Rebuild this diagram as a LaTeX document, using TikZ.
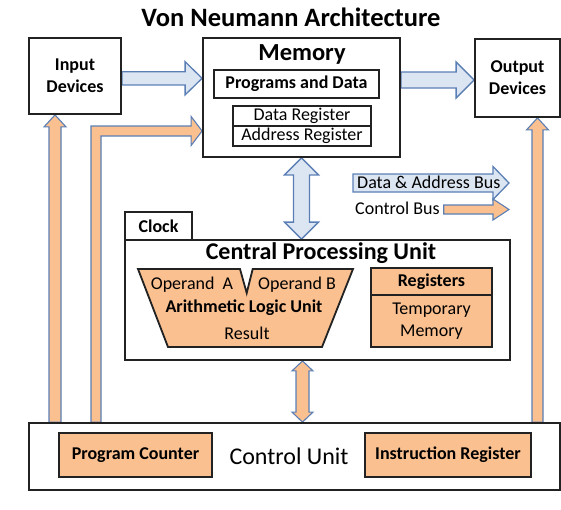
\documentclass[tikz,border=0pt]{standalone}
\usepackage{fontspec}
\setmainfont{Carlito}
\usetikzlibrary{calc}
\definecolor{bfill}{HTML}{DCE6F2}
\definecolor{bline}{HTML}{5B7FB5}
\definecolor{ofill}{HTML}{FAC090}
\definecolor{kline}{HTML}{222222}
\pgfdeclarelayer{bg}
\pgfsetlayers{bg,main}
\tikzset{
 box/.style={draw=kline, line width=1.8pt, fill=white, inner sep=0pt},
 obox/.style={box, fill=ofill},
 thinbox/.style={draw=kline, line width=1.2pt, fill=white, inner sep=0pt},
 barrow/.style={draw=bline, fill=bfill, line width=1.3pt, line join=miter},
 oarrow/.style={draw=bline, fill=ofill, line width=1.1pt, line join=miter},
 txt/.style={font=\fontsize{18}{22}\selectfont, inner sep=0pt, align=center},
 btxt/.style={font=\fontsize{18}{22}\selectfont\bfseries, inner sep=0pt, align=center},
 bigtxt/.style={font=\fontsize{24.5}{28}\selectfont\bfseries, inner sep=0pt},
}
\newcommand\rightblock[6]{%
 \path[#1] let \p1=#2, \p2=#3 in
 (\x1,\y1+#4) -- (\x2-#6,\y1+#4) -- (\x2-#6,\y1+#5) -- (\x2,\y1) -- (\x2-#6,\y1-#5) -- (\x2-#6,\y1-#4) -- (\x1,\y1-#4) -- cycle;}
\newcommand\upblock[6]{%
 \path[#1] let \p1=#2, \p2=#3 in
 (\x1-#4,\y1) -- (\x1-#4,\y2-#6) -- (\x1-#5,\y2-#6) -- (\x1,\y2) -- (\x1+#5,\y2-#6) -- (\x1+#4,\y2-#6) -- (\x1+#4,\y1) -- cycle;}
\newcommand\dblblock[6]{%
 \path[#1] let \p1=#2, \p2=#3 in
 (\x1-#4,\y1-#6) -- (\x1-#5,\y1-#6) -- (\x1,\y1) -- (\x1+#5,\y1-#6) -- (\x1+#4,\y1-#6) -- (\x1+#4,\y2+#6) -- (\x1+#5,\y2+#6) -- (\x1,\y2) -- (\x1-#5,\y2+#6) -- (\x1-#4,\y2+#6) -- cycle;}
\begin{document}
\begin{tikzpicture}[x=1pt,y=-1pt]
\useasboundingbox (0,0) rectangle (561,509);
% title
\node[font=\fontsize{26.5}{30}\selectfont\bfseries, inner sep=0pt] (title) at (291,17) {Von Neumann Architecture};
% boxes
\node[box, minimum width=92pt, minimum height=76pt] (in) at (75,76) {};
\node[btxt] (intxt) at (in) {Input\\Devices};
\node[box, minimum width=197pt, minimum height=119pt] (mem) at (301.5,97.5) {};
\node[bigtxt] (memtxt) at (302,54) {Memory};
\node[box, minimum width=165pt, minimum height=28pt, btxt] (pd) at (296.5,84) {Programs and Data};
\node[thinbox, minimum width=138pt, minimum height=20pt, txt] (dr) at (302,116) {Data Register};
\node[thinbox, minimum width=138pt, minimum height=20pt, txt] (ar) at (302,136) {Address Register};
\node[box, minimum width=85pt, minimum height=78pt] (out) at (517.5,78) {};
\node[btxt] (outtxt) at (out) {Output\\Devices};
% cpu
\node[box, minimum width=67pt, minimum height=28pt, btxt] (clock) at (158.5,226) {Clock};
\node[box, minimum width=385pt, minimum height=120pt] (cpu) at (317.5,300) {};
\node[font=\fontsize{24}{28}\selectfont\bfseries, inner sep=0pt] (cputxt) at (321,253) {Central Processing Unit};
\draw[draw=kline, fill=ofill, line width=1.8pt, line join=miter] (138,269) -- (240,269) -- (246.7,293) -- (252.7,269) -- (353,269) -- (322,347) -- (168,347) -- cycle;
\node[txt] (opa) at (192,285) {Operand\ \ A};
\node[txt] (opb) at (297,285) {Operand B};
\node[btxt] (alu) at (244,308) {Arithmetic Logic Unit};
\node[txt] (res) at (247,333) {Result};
\node[obox, minimum width=121pt, minimum height=27pt, btxt] (regh) at (431.5,281.5) {Registers};
\node[obox, minimum width=121pt, minimum height=52pt, txt] (regb) at (431.5,321) {Temporary\\Memory};
% control unit
\node[box, minimum width=531pt, minimum height=67pt] (ctrl) at (294.5,456.5) {};
\node[font=\fontsize{24}{28}\selectfont, inner sep=0pt] (ctrltxt) at (289,456) {Control Unit};
\node[obox, minimum width=153pt, minimum height=44pt, btxt] (pc) at (135.5,455) {Program Counter};
\node[obox, minimum width=166pt, minimum height=44pt, btxt] (ir) at (448,455) {Instruction Register};
% legend
\coordinate (lgs) at (353,183);
\coordinate (lge) at (509,183);
\node[txt, anchor=west] (dab) at (357,182) {Data \& Address Bus};
\node[txt, anchor=west] (cb) at (355,208) {Control Bus};
\begin{pgfonlayer}{bg}
\rightblock{barrow}{(lgs)}{(lge)}{9pt}{16.5pt}{16pt}
\rightblock{oarrow}{([xshift=4pt,yshift=-1.5pt]cb.east)}{(lge)}{4.5pt}{10.5pt}{16pt}
% buses
\rightblock{barrow}{([yshift=-2.3pt]in.east)}{(mem.west)}{6.6pt}{16.6pt}{17pt}
\rightblock{barrow}{([yshift=-2pt]mem.east |- out.west)}{(out.west)}{8pt}{18pt}{18pt}
\dblblock{barrow}{(mem.south)}{(mem.south |- cpu.north)}{8pt}{17pt}{17pt}
\dblblock{oarrow}{([xshift=-15pt]cpu.south)}{([xshift=-15pt]cpu.south |- ctrl.north)}{6.5pt}{10.5pt}{10pt}
\upblock{oarrow}{([xshift=-20pt]in.south |- ctrl.north)}{([xshift=-20pt]in.south)}{6pt}{11pt}{12pt}
\upblock{oarrow}{([xshift=20pt]out.south |- ctrl.north)}{([xshift=20pt]out.south)}{5.5pt}{11pt}{12pt}
\path[oarrow] let \p1=([xshift=21pt]in.south |- ctrl.north), \p2=([yshift=-33.5pt]mem.west) in
 (\x1-5pt,\y1) -- (\x1-5pt,\y2+5pt) -- (\x2-11pt,\y2+5pt) -- (\x2-11pt,\y2+14.5pt) -- (\x2,\y2) -- (\x2-11pt,\y2-14.5pt) -- (\x2-11pt,\y2-5pt) -- (\x1+5pt,\y2-5pt) -- (\x1+5pt,\y1) -- cycle;
\end{pgfonlayer}
\end{tikzpicture}
\end{document}
